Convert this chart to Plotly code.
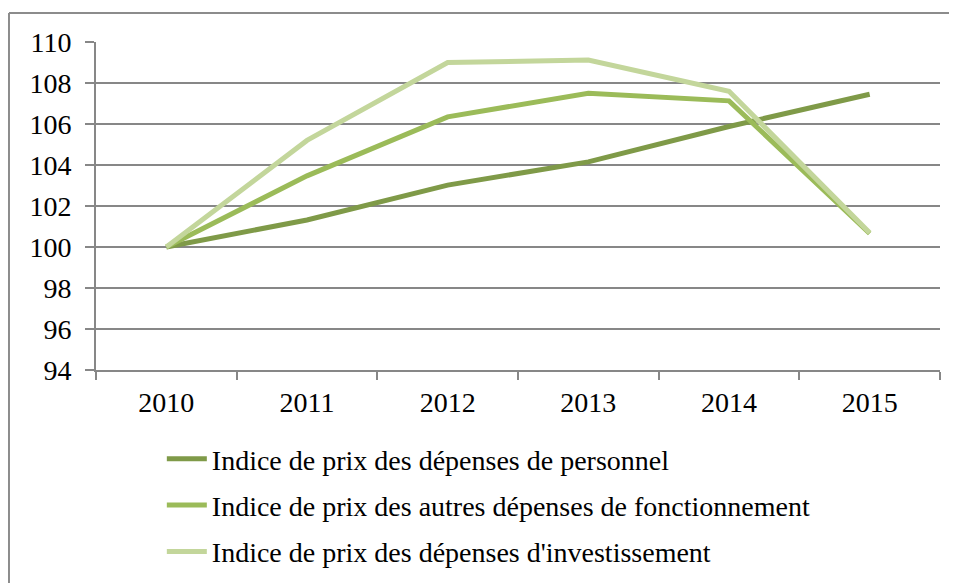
import plotly.graph_objects as go

years = ["2010", "2011", "2012", "2013", "2014", "2015"]
personnel = [100, 101.32, 103.02, 104.15, 105.88, 107.45]
fonctionnement = [100, 103.47, 106.35, 107.5, 107.13, 100.66]
investissement = [100, 105.2, 109.0, 109.12, 107.6, 100.7]

names = [
    "Indice de prix des dépenses de personnel",
    "Indice de prix des autres dépenses de fonctionnement",
    "Indice de prix des dépenses d'investissement",
]
colors = ["#7F9A48", "#9BBB59", "#C3D69B"]
series = [personnel, fonctionnement, investissement]

FONT = "Liberation Serif"
grid = "#878787"

fig = go.Figure()
for i, (name, vals, col) in enumerate(zip(names, series, colors)):
    fig.add_trace(go.Scatter(x=years, y=vals, mode="lines", name=name,
                             legendgroup=str(i),
                             line=dict(color=col, width=5)))

# page body has an 8px margin, so the figure is offset by 8px
fig.update_layout(
    width=957, height=583,
    margin=dict(l=88, r=25, t=34, b=221, autoexpand=False),
    paper_bgcolor="white", plot_bgcolor="white",
    font=dict(family=FONT, size=28, color="black"),
    showlegend=True,
    legend=dict(x=0.078, y=0.2694, xanchor="left", yanchor="top",
                yref="container",
                orientation="v", tracegroupgap=7, itemwidth=40,
                font=dict(family=FONT, size=28)),
    xaxis=dict(type="category", range=[-0.5, 5.5], showgrid=False,
               showline=True, linecolor=grid, linewidth=2,
               ticks="outside", tickson="boundaries", ticklen=8,
               tickcolor=grid, tickwidth=2, ticklabelstandoff=6),
    yaxis=dict(range=[94, 110], dtick=2, tick0=94, showgrid=True,
               gridcolor=grid, gridwidth=2, zeroline=False,
               showline=True, linecolor=grid, linewidth=2,
               ticks="outside", ticklen=9, tickcolor=grid, tickwidth=2,
               ticklabelstandoff=8),
    shapes=[
        dict(type="line", xref="paper", yref="paper", x0=-0.1031, x1=1.1,
             y0=1.0884, y1=1.0884, line=dict(color="#8C8C8C", width=2)),
        dict(type="line", xref="paper", yref="paper", x0=-0.1031, x1=-0.1031,
             y0=1.0884, y1=-0.7, line=dict(color="#8C8C8C", width=2)),
    ],
)

fig.write_html("out.html")
